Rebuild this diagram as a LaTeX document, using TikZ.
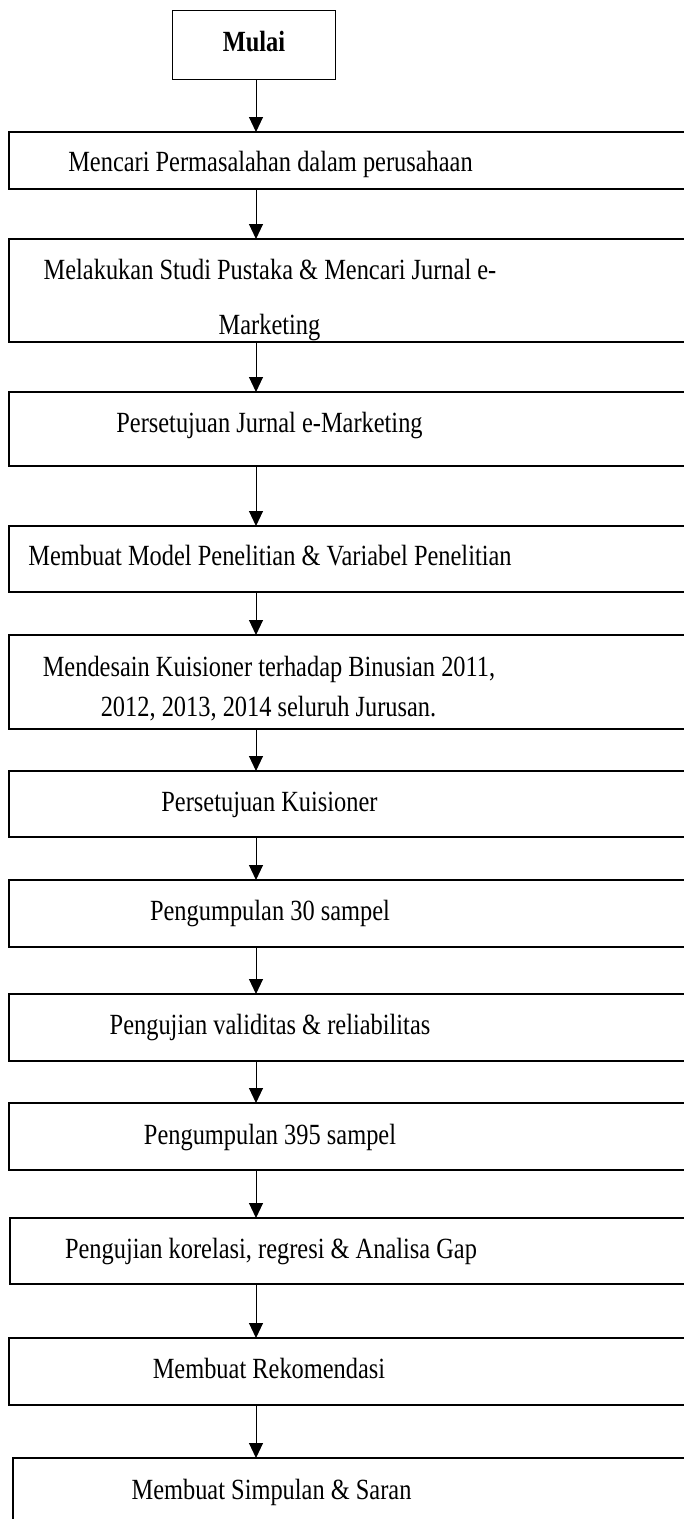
\documentclass[tikz,border=0pt]{standalone}
\usepackage{fontspec}
\setmainfont{Liberation Serif}
\usepackage{graphicx}
\usetikzlibrary{arrows.meta}
\tikzset{
  box/.style={draw, line width=1.2pt, rectangle, inner sep=0pt, outer sep=0pt, anchor=north west},
  txt/.style={inner sep=0pt, anchor=base, font=\fontsize{24.4}{29}\selectfont},
  arr/.style={line width=1pt, -{Triangle[length=15pt,width=14pt]}},
}
\newcommand{\vsc}[1]{\scalebox{1}[1.2]{#1}}
\begin{document}
\begin{tikzpicture}[x=1pt,y=-1pt]
\clip (0,0) rectangle (684,1519);
\fill[white] (0,0) rectangle (684,1519);
\coordinate (ax) at (256,0);
% boxes
\node[box, line width=1pt, minimum width=163pt, minimum height=69pt] (b1) at (172,10) {};
\node[box, minimum width=700pt, minimum height=57pt]  (b2)  at (9,132) {};
\node[box, minimum width=700pt, minimum height=103pt] (b3)  at (9,239) {};
\node[box, minimum width=700pt, minimum height=74pt]  (b4)  at (9,392) {};
\node[box, minimum width=700pt, minimum height=66pt]  (b5)  at (9,526) {};
\node[box, minimum width=700pt, minimum height=94pt]  (b6)  at (9,635) {};
\node[box, minimum width=700pt, minimum height=66pt]  (b7)  at (9,771) {};
\node[box, minimum width=700pt, minimum height=67pt]  (b8)  at (9,880) {};
\node[box, minimum width=700pt, minimum height=67pt]  (b9)  at (9,994) {};
\node[box, minimum width=700pt, minimum height=67pt]  (b10) at (9,1103) {};
\node[box, minimum width=700pt, minimum height=66pt]  (b11) at (10,1218) {};
\node[box, minimum width=700pt, minimum height=67pt]  (b12) at (9,1338) {};
\node[box, minimum width=700pt, minimum height=90pt]  (b13) at (13,1458) {};
% texts
\node[txt, font=\fontsize{24.4}{29}\selectfont\bfseries] (t1) at (254,51) {\vsc{Mulai}};
\node[txt] (t2)  at (270.5,171) {\vsc{Mencari Permasalahan dalam perusahaan}};
\node[txt] (t3a) at (270,279) {\vsc{Melakukan Studi Pustaka \& Mencari Jurnal e-}};
\node[txt] (t3b) at (269.5,334) {\vsc{Marketing}};
\node[txt] (t4)  at (269.5,432) {\vsc{Persetujuan Jurnal e-Marketing}};
\node[txt] (t5)  at (270,565) {\vsc{Membuat Model Penelitian \& Variabel Penelitian}};
\node[txt] (t6a) at (269,676) {\vsc{Mendesain Kuisioner terhadap Binusian 2011,}};
\node[txt] (t6b) at (268.5,716) {\vsc{2012, 2013, 2014 seluruh Jurusan.}};
\node[txt] (t7)  at (269.5,811) {\vsc{Persetujuan Kuisioner}};
\node[txt] (t8)  at (270,920) {\vsc{Pengumpulan 30 sampel}};
\node[txt] (t9)  at (270,1034) {\vsc{Pengujian validitas \& reliabilitas}};
\node[txt] (t10) at (270,1144) {\vsc{Pengumpulan 395 sampel}};
\node[txt] (t11) at (271,1258) {\vsc{Pengujian korelasi, regresi \& Analisa Gap}};
\node[txt] (t12) at (269,1378) {\vsc{Membuat Rekomendasi}};
\node[txt] (t13) at (271.5,1499) {\vsc{Membuat Simpulan \& Saran}};
% arrows
\draw[arr] (b1.south -| ax) -- (b2.north -| ax);
\draw[arr] (b2.south -| ax) -- (b3.north -| ax);
\draw[arr] (b3.south -| ax) -- (b4.north -| ax);
\draw[arr] (b4.south -| ax) -- (b5.north -| ax);
\draw[arr] (b5.south -| ax) -- (b6.north -| ax);
\draw[arr] (b6.south -| ax) -- (b7.north -| ax);
\draw[arr] (b7.south -| ax) -- (b8.north -| ax);
\draw[arr] (b8.south -| ax) -- (b9.north -| ax);
\draw[arr] (b9.south -| ax) -- (b10.north -| ax);
\draw[arr] (b10.south -| ax) -- (b11.north -| ax);
\draw[arr] (b11.south -| ax) -- (b12.north -| ax);
\draw[arr] (b12.south -| ax) -- (b13.north -| ax);
\end{tikzpicture}
\end{document}
